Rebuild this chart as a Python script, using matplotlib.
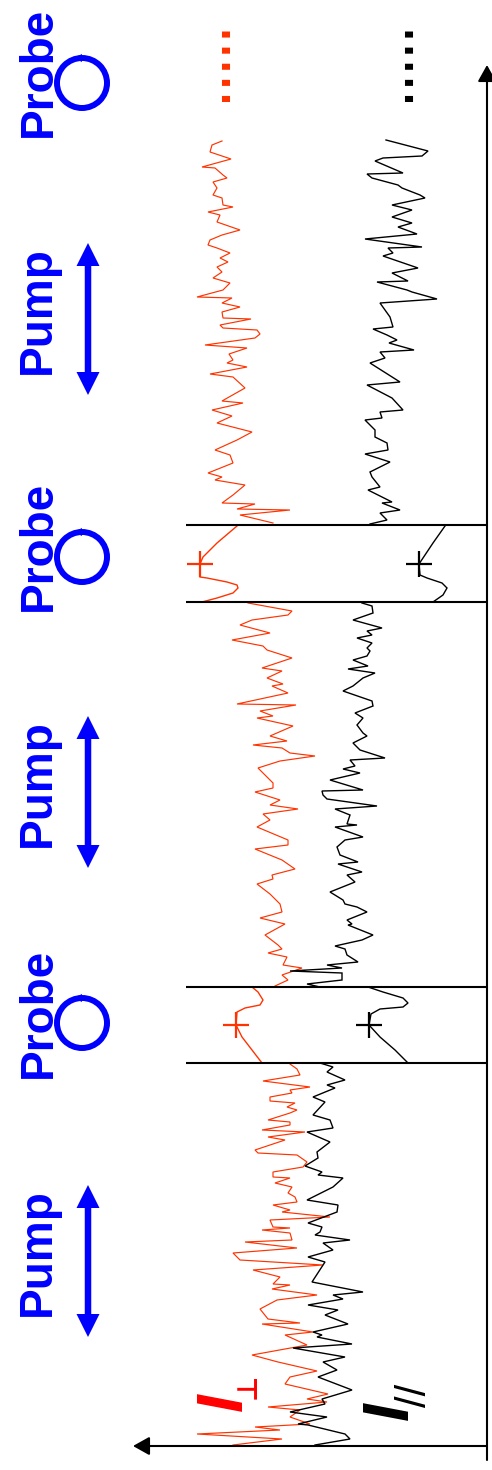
import numpy as np
import matplotlib
matplotlib.use("Agg")
import matplotlib.pyplot as plt
from matplotlib.patches import Circle

# Pump-probe trace: time runs upward, detected signal grows to the left.
# Each trace is a list of (time, signal) samples.

# --- pump interval 3 (latest) ---
perp_pump3 = [(1305,265),(1301,275),(1294,277),(1287,256),(1279,285),(1278,272),(1271,264),(1268,260),
              (1264,274),(1258,270),(1251,274),(1248,265),(1241,264),(1239,254),(1234,279),(1231,267),
              (1224,270),(1216,247),(1211,265),(1206,277),(1201,279),(1198,270),(1193,257),(1188,267),
              (1184,259),(1179,270),(1174,265),(1168,274),(1163,257),(1156,264),(1149,290),(1148,255),
              (1143,265),(1139,247),(1134,265),(1128,264),(1127,236),(1121,267),(1118,264),(1116,230),
              (1112,227),(1108,232),(1101,282),(1098,240),(1092,258),(1086,254),(1083,260),(1079,240),
              (1072,277),(1069,254),(1058,242),(1045,265),(1043,244),(1036,275),(1030,255),(1023,270),
              (1014,235),(1006,250),(996,272),(991,257),(983,254),(973,279),(969,265),(966,272),
              (961,242),(951,254),(943,265),(942,232),(937,250),(936,197),(931,247),(923,214)]
par_pump3 = [(1306,101),(1295,59),(1290,65),(1288,104),(1285,112),(1273,84),(1272,120),(1268,115),
             (1261,89),(1258,85),(1251,67),(1248,62),(1241,95),(1236,75),(1229,95),(1223,75),
             (1219,89),(1212,70),(1207,122),(1199,65),(1198,99),(1193,94),(1190,104),(1178,69),
             (1173,95),(1165,79),(1164,110),(1156,80),(1154,75),(1147,50),(1143,107),(1129,97),
             (1119,94),(1117,114),(1111,100),(1106,90),(1103,98),(1096,73),(1094,107),(1088,102),
             (1083,117),(1064,87),(1061,120),(1048,95),(1036,84),(1034,107),(1028,105),(1026,122),
             (1016,112),(1009,112),(1003,100),(996,99),(992,122),(984,97),(974,117),(969,115),
             (959,107),(956,119),(944,95),(943,105),(936,87),(933,107),(926,100),(922,117)]

# --- probe window 2 (fitted response) ---
perp_probe2 = [(920,250),(903,270),(889,284),(882,287),(869,287),(868,280),(864,260),(861,250),
               (858,249),(853,254),(848,270),(844,285)]
par_probe2 = [(920,42),(903,54),(888,64),(882,68),(871,67),(868,60),(863,45),(858,40),(851,44),(844,54)]

# --- pump interval 2 ---
perp_pump2 = [(843,239),(835,195),(831,199),(826,235),(821,247),(813,217),(806,255),(800,224),
              (796,220),(788,195),(778,225),(775,205),(768,220),(762,204),(760,215),(753,199),
              (742,250),(741,191),(735,227),(730,214),(728,230),(720,194),(710,217),(705,200),
              (701,234),(698,205),(693,197),(690,172),(685,207),(678,229),(663,214),(658,214),
              (654,232),(646,207),(641,217),(637,189),(632,224),(626,217),(619,230),(606,199),
              (601,199),(597,232),(586,205),(577,192),(571,215),(567,214),(562,230),(552,217),
              (542,207),(534,205),(528,227),(522,202),(511,222),(501,209),(497,205),(493,219),
              (489,200),(481,204),(478,185),(471,205),(466,199),(460,212)]
par_pump2 = [(843,125),(840,115),(833,114),(826,134),(818,105),(815,120),(811,115),(808,130),
             (803,115),(798,120),(795,117),(790,120),(786,134),(780,119),(777,139),(773,112),
             (768,124),(760,134),(755,144),(745,115),(740,114),(733,132),(728,124),(721,130),
             (713,124),(710,120),(703,134),(696,127),(688,102),(686,137),(680,132),(677,144),
             (673,127),(666,157),(656,124),(655,165),(651,164),(647,160),(640,110),(637,152),
             (631,137),(622,140),(621,130),(619,152),(609,124),(606,142),(599,150),(591,147),
             (584,129),(582,149),(574,125),(571,140),(564,132),(554,157),(546,144),(542,142),
             (539,130),(534,120),(526,140),(522,135),(521,139),(511,114),(506,125),(500,152),
             (497,142),(491,140),(484,129),(481,160),(478,145),(475,197),(473,145),(466,145),
             (462,180),(459,167)]

# --- probe window 1 (fitted response) ---
perp_probe1 = [(459,235),(454,229),(446,224),(441,227),(438,242),(434,250),(421,251),(409,245),
               (396,235),(383,225)]
par_probe1 = [(459,119),(454,104),(448,84),(443,79),(439,84),(437,107),(432,116),(421,118),
              (409,107),(396,92),(383,79)]

# --- pump interval 1 (earliest) ---
perp_pump1 = [(382,197),(377,190),(371,187),(365,224),(359,177),(356,197),(353,195),(349,217),
              (345,217),(343,192),(339,200),(336,190),(333,197),(326,219),(324,197),(321,197),
              (316,225),(314,182),(309,219),(306,202),(296,232),(293,229),(291,190),(284,180),
              (279,184),(274,214),(269,214),(268,197),(263,212),(259,195),(253,199),(249,192),
              (244,190),(241,214),(236,197),(234,205),(229,157),(226,217),(219,214),(218,197),
              (216,225),(213,197),(206,195),(204,242),(198,190),(193,254),(186,247),(181,164),
              (176,234),(169,207),(162,214),(161,197),(157,215),(151,170),(146,210),(137,227),
              (127,219),(123,187),(122,225),(114,174),(111,202),(101,180),(91,235),(84,209),
              (75,170),(69,197),(62,202),(52,159),(47,180),(44,160),(39,219),(36,187),
              (29,197),(22,177),(19,232),(16,207),(12,290),(7,205),(1,254)]
par_pump1 = [(383,167),(379,154),(374,160),(366,142),(361,160),(358,152),(349,174),(344,162),
             (331,174),(326,157),(318,154),(314,180),(304,157),(294,170),(288,169),(280,182),
             (274,165),(271,169),(268,144),(259,154),(246,180),(241,149),(234,150),(223,179),
             (219,165),(214,167),(211,172),(206,137),(203,164),(196,154),(189,179),(184,162),
             (164,175),(154,124),(151,154),(147,144),(141,179),(136,149),(131,162),(122,139),
             (114,174),(111,165),(109,170),(102,135),(98,194),(89,142),(84,164),(76,150),
             (69,169),(56,135),(47,165),(42,162),(34,197),(29,160),(22,189),(21,179),
             (12,142),(7,137),(1,172)]

# fitted peak of each probe window: (time, perp signal, parallel signal)
probe_peaks = [(421, 251, 118), (882, 287, 68)]
# probe windows as (start, end) times
probe_windows = [(383, 459), (844, 921)]

RED = '#ff3300'
LABEL_RED = '#ff0000'
BLUE = '#0000ff'

fig = plt.figure(figsize=(4.92, 14.70), dpi=100)
ax = fig.add_axes([0, 0, 1, 1])
ax.set_xlim(487, -5)
ax.set_ylim(-24, 1446)
ax.axis('off')


def trace(points, color, lw):
    arr = np.array(points, dtype=float)
    ax.plot(arr[:, 1], arr[:, 0], color=color, lw=lw, solid_joinstyle='miter')


for pts in (perp_pump1, perp_pump2, perp_pump3):
    trace(pts, RED, 0.85)
for pts in (par_pump1, par_pump2, par_pump3):
    trace(pts, 'black', 1.0)
for pts in (perp_probe1, perp_probe2):
    trace(pts, RED, 1.0)
for pts in (par_probe1, par_probe2):
    trace(pts, 'black', 1.0)

peaks = np.array(probe_peaks, dtype=float)
ax.plot(peaks[:, 1], peaks[:, 0], ls='none', marker='+', ms=19, mew=1.6, color=RED)
ax.plot(peaks[:, 2], peaks[:, 0], ls='none', marker='+', ms=19, mew=1.6, color='black')

# probe window boundaries
for start, end in probe_windows:
    ax.hlines([start, end], 0, 301, color='black', lw=1.5)

# continuation dots above the last pump interval
ax.plot([261, 261], [1344, 1415], color=RED, lw=5.8, dashes=(0.75, 1.25), dash_capstyle='butt')
ax.plot([78, 78], [1344, 1415], color='black', lw=5.8, dashes=(0.75, 1.25), dash_capstyle='butt')

# axes with arrowheads
arrow_kw = dict(arrowstyle='-|>,head_length=0.5,head_width=0.28', lw=1.5, color='black',
                mutation_scale=20, shrinkA=0, shrinkB=0)
ax.annotate('', xy=(354, 0), xytext=(0, 0), arrowprops=arrow_kw)
ax.annotate('', xy=(0, 1381), xytext=(0, -14), arrowprops=arrow_kw)

# excitation labels
text_kw = dict(rotation=90, rotation_mode='anchor', ha='center', va='baseline',
               fontsize=33, fontweight='bold', color=BLUE, family='Liberation Sans')
for t in (433, 900, 1374):
    ax.text(436, t, 'Probe', **text_kw)
for t in (423, 889, 1363):
    # circular polarisation symbol with a small sense-of-rotation tick
    ax.add_patch(Circle((405, t), 25, fill=False, ec=BLUE, lw=4.3))
    ax.plot([409], [t + 25], marker='<', ms=6, color=BLUE, mew=0)
for t in (185, 654, 1127):
    ax.text(437, t + 9, 'Pump', **text_kw)
    for direction in (1, -1):
        ax.arrow(399, t, 0, 76 * direction, width=6.5, head_width=23, head_length=23,
                 length_includes_head=True, fc=BLUE, ec='none')

# trace labels
ax.text(245, 44, 'I', rotation=90, rotation_mode='anchor', ha='center', va='baseline',
        fontsize=46, fontweight='bold', style='italic', color=LABEL_RED, family='Liberation Sans')
ax.text(231, 60, '\u22a5', rotation=90, rotation_mode='anchor', ha='center', va='baseline',
        fontsize=20, fontweight='bold', color=LABEL_RED, family='DejaVu Sans')
ax.text(79, 35, 'I', rotation=90, rotation_mode='anchor', ha='center', va='baseline',
        fontsize=46, fontweight='bold', style='italic', color='black', family='Liberation Sans')
ax.text(61, 51, '//', rotation=90, rotation_mode='anchor', ha='center', va='baseline',
        fontsize=30, color='black', family='Liberation Sans')

fig.savefig('out.png', dpi=100)
